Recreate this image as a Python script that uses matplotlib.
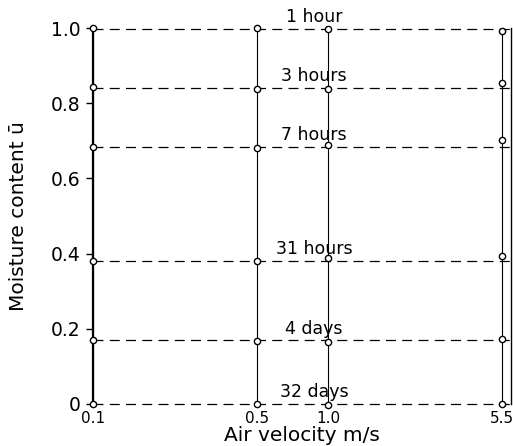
import numpy as np
import matplotlib
matplotlib.use("Agg")
import matplotlib.pyplot as plt

# air velocities tested (m/s)
velocity = [0.1, 0.5, 1.0, 5.5]
vel_labels = ["0.1", "0.5", "1.0", "5.5"]

# drying times and the mean moisture level for each
times = ["1 hour", "3 hours", "7 hours", "31 hours", "4 days", "32 days"]
levels = [0.997, 0.84, 0.684, 0.38, 0.169, 0.0]

# measured moisture content at each velocity, one list per drying time
m_1h = [1.0, 1.0, 0.997, 0.993]
m_3h = [0.843, 0.838, 0.838, 0.854]
m_7h = [0.684, 0.681, 0.689, 0.702]
m_31h = [0.380, 0.380, 0.387, 0.394]
m_4d = [0.170, 0.168, 0.166, 0.172]
m_32d = [0.0, 0.0, -0.003, 0.0]
moisture = [m_1h, m_3h, m_7h, m_31h, m_4d, m_32d]

yticks = [0, 0.2, 0.4, 0.6, 0.8, 1.0]
ytick_labels = ["0", "0.2", "0.4", "0.6", "0.8", "1.0"]

plt.rcParams["font.family"] = ["DejaVu Sans"]

fig = plt.figure(figsize=(5.13, 4.46), dpi=100)
ax = fig.add_axes([0.1813, 0.0942, 0.8148, 0.843])

ax.set_xscale("log")
ax.set_xlim(0.1, 6.0)
ax.set_ylim(0, 1.0)

# solid verticals at each velocity
ax.vlines(velocity, 0, 1.0, colors="black", lw=0.8, zorder=2)

# dashed level lines, points and time labels
for name, lev, vals in zip(times, levels, moisture):
   ax.axhline(lev, color="black", lw=0.9, linestyle=(0, (8, 5)), zorder=2, clip_on=False)
   ax.plot(velocity, vals, linestyle="none", marker="o", ms=4.5, mfc="white",
           mec="black", mew=1.0, zorder=4, clip_on=False)
   ax.annotate(name, xy=(0.87, lev), xytext=(0, 5), textcoords="offset points",
               ha="center", va="baseline", fontsize=12.5)

for side in ["top", "bottom"]:
   ax.spines[side].set_visible(False)
ax.spines["left"].set_linewidth(1.6)
ax.spines["right"].set_linewidth(1.0)

ax.set_xticks(velocity)
ax.set_xticklabels(vel_labels)
ax.xaxis.set_minor_locator(matplotlib.ticker.NullLocator())
ax.tick_params(axis="x", length=0, pad=5, labelsize=11)

ax.set_yticks(yticks)
ax.set_yticklabels(ytick_labels)
ax.tick_params(axis="y", direction="out", length=5, width=1.0, pad=4, labelsize=13.5)

ax.set_xlabel("Air velocity m/s", fontsize=14.5, labelpad=0)
ax.set_ylabel("Moisture content ū", fontsize=14.5)
ax.yaxis.set_label_coords(-0.155, 0.5)

fig.savefig("out.png", dpi=100)
